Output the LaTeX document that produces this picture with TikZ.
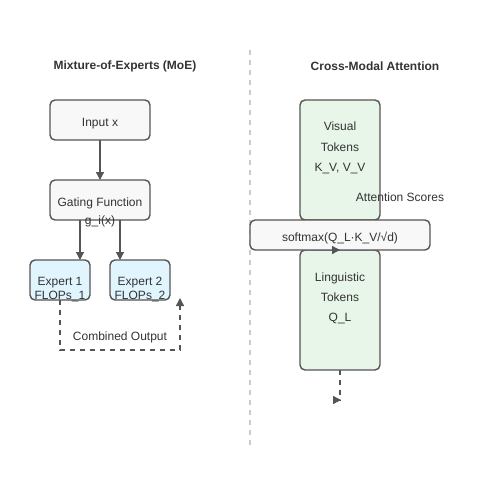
\documentclass[tikz,border=0pt]{standalone}
\usepackage{fontspec}
\setmainfont{Liberation Sans}
\usetikzlibrary{positioning,arrows.meta}

\definecolor{edge}{HTML}{555555}
\definecolor{ink}{HTML}{333333}
\definecolor{boxfill}{HTML}{F8F8F8}
\definecolor{expfill}{HTML}{E1F5FE}
\definecolor{tokfill}{HTML}{E8F5E9}
\definecolor{divider}{HTML}{CCCCCC}

\tikzset{
  box/.style={draw=edge, line width=1.4pt, rounded corners=5pt, fill=boxfill,
    inner sep=0pt, outer sep=0pt, text=ink, text height=12pt, text depth=0pt,
    font=\fontsize{12}{14}\selectfont},
  expert/.style={box, fill=expfill, minimum width=60pt, minimum height=40pt},
  tokens/.style={box, fill=tokfill, minimum width=80pt, minimum height=120pt},
  txt/.style={inner sep=0pt, anchor=base, text=ink, font=\fontsize{12}{14}\selectfont},
  title/.style={txt, font=\fontsize{12}{14}\selectfont\bfseries},
  flow/.style={draw=edge, line width=1.4pt, -{Triangle[length=8pt,width=8pt]}},
  loose/.style={flow, dash pattern=on 5pt off 5pt},
}

\begin{document}
\begin{tikzpicture}[x=1pt, y=-1pt]
    \useasboundingbox (0,0) rectangle (500,500);

    % left half: mixture of experts
    \node[title] (moe) at (125,70) {Mixture-of-Experts (MoE)};

    \node[box, minimum width=100pt, minimum height=40pt] (input) at (100,120) {Input x};
    \node[box, minimum width=100pt, minimum height=40pt, below=40pt of input] (gate) {Gating Function};
    \node[txt] (gi) at (100,224) {g\_i(x)};

    \node[expert] (exp1) at (60,280) {};
    \node[expert, right=20pt of exp1] (exp2) {};
    \node[txt] (e1a) at (60,285) {Expert 1};
    \node[txt] (e1b) at (60,299.5) {FLOPs\_1};
    \node[txt] (e2a) at (140,285) {Expert 2};
    \node[txt] (e2b) at (140,299.5) {FLOPs\_2};

    \coordinate (out) at (180,298);
    \node[txt] (comb) at (120,340) {Combined Output};

    \draw[flow] (input) -- (gate);
    \draw[flow] ([xshift=-20pt]gate.south) -- ([xshift=20pt]exp1.north);
    \draw[flow] ([xshift=20pt]gate.south) -- ([xshift=-20pt]exp2.north);
    \draw[loose] (exp1.south) -- ++(0,50) -| (out);

    % divider
    \coordinate (d1) at (250,50);
    \coordinate (d2) at (250,445);
    \draw[divider, line width=1.4pt, dash pattern=on 5pt off 5pt] (d1) -- (d2);

    % right half: cross-modal attention
    \node[title] (cma) at (375,71) {Cross-Modal Attention};

    \node[tokens] (vis) at (340,160) {};
    \node[txt] (v1) at (340,131) {Visual};
    \node[txt] (v2) at (340,151) {Tokens};
    \node[txt] (v3) at (340,171) {K\_V, V\_V};
    \node[txt] (score) at (400,201) {Attention Scores};

    \node[tokens] (ling) at (340,310) {};
    \node[txt] (l1) at (340,281) {Linguistic};
    \node[txt] (l2) at (340,301) {Tokens};
    \node[txt] (l3) at (340,321) {Q\_L};

    \node[box, minimum width=180pt, minimum height=30pt] (soft) at (340,235) {softmax(Q\_L·K\_V/√d)};

    \coordinate (end) at (341,400);
    \draw[flow] ([xshift=-1pt]ling.north) -- (ling.north);
    \draw[loose] (ling.south) |- (end);
\end{tikzpicture}
\end{document}
